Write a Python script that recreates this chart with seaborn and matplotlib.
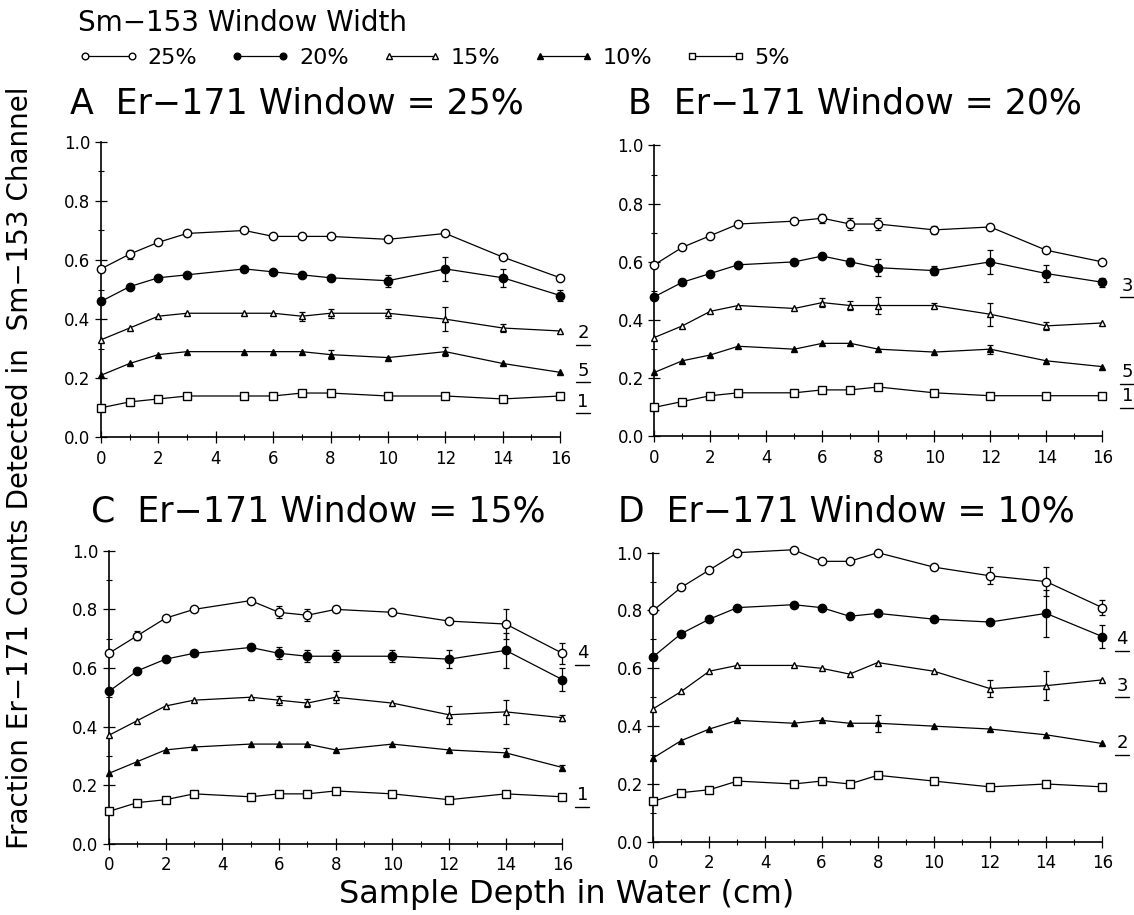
import numpy as np
import pandas as pd
import matplotlib
matplotlib.use("Agg")
import matplotlib.pyplot as plt
from matplotlib.lines import Line2D
from matplotlib.ticker import MultipleLocator
import seaborn as sns

depth = [0, 1, 2, 3, 5, 6, 7, 8, 10, 12, 14, 16]
sm_windows = ["25%", "20%", "15%", "10%", "5%"]
panel_letters = ["A", "B", "C", "D"]
er_windows = ["25%", "20%", "15%", "10%"]

# fraction values, one list per Sm-153 window, per panel
frac_A = [
    [0.57, 0.62, 0.66, 0.69, 0.70, 0.68, 0.68, 0.68, 0.67, 0.69, 0.61, 0.54],
    [0.46, 0.51, 0.54, 0.55, 0.57, 0.56, 0.55, 0.54, 0.53, 0.57, 0.54, 0.48],
    [0.33, 0.37, 0.41, 0.42, 0.42, 0.42, 0.41, 0.42, 0.42, 0.40, 0.37, 0.36],
    [0.21, 0.25, 0.28, 0.29, 0.29, 0.29, 0.29, 0.28, 0.27, 0.29, 0.25, 0.22],
    [0.10, 0.12, 0.13, 0.14, 0.14, 0.14, 0.15, 0.15, 0.14, 0.14, 0.13, 0.14],
]
frac_B = [
    [0.59, 0.65, 0.69, 0.73, 0.74, 0.75, 0.73, 0.73, 0.71, 0.72, 0.64, 0.60],
    [0.48, 0.53, 0.56, 0.59, 0.60, 0.62, 0.60, 0.58, 0.57, 0.60, 0.56, 0.53],
    [0.34, 0.38, 0.43, 0.45, 0.44, 0.46, 0.45, 0.45, 0.45, 0.42, 0.38, 0.39],
    [0.22, 0.26, 0.28, 0.31, 0.30, 0.32, 0.32, 0.30, 0.29, 0.30, 0.26, 0.24],
    [0.10, 0.12, 0.14, 0.15, 0.15, 0.16, 0.16, 0.17, 0.15, 0.14, 0.14, 0.14],
]
frac_C = [
    [0.65, 0.71, 0.77, 0.80, 0.83, 0.79, 0.78, 0.80, 0.79, 0.76, 0.75, 0.65],
    [0.52, 0.59, 0.63, 0.65, 0.67, 0.65, 0.64, 0.64, 0.64, 0.63, 0.66, 0.56],
    [0.37, 0.42, 0.47, 0.49, 0.50, 0.49, 0.48, 0.50, 0.48, 0.44, 0.45, 0.43],
    [0.24, 0.28, 0.32, 0.33, 0.34, 0.34, 0.34, 0.32, 0.34, 0.32, 0.31, 0.26],
    [0.11, 0.14, 0.15, 0.17, 0.16, 0.17, 0.17, 0.18, 0.17, 0.15, 0.17, 0.16],
]
frac_D = [
    [0.80, 0.88, 0.94, 1.00, 1.01, 0.97, 0.97, 1.00, 0.95, 0.92, 0.90, 0.81],
    [0.64, 0.72, 0.77, 0.81, 0.82, 0.81, 0.78, 0.79, 0.77, 0.76, 0.79, 0.71],
    [0.46, 0.52, 0.59, 0.61, 0.61, 0.60, 0.58, 0.62, 0.59, 0.53, 0.54, 0.56],
    [0.29, 0.35, 0.39, 0.42, 0.41, 0.42, 0.41, 0.41, 0.40, 0.39, 0.37, 0.34],
    [0.14, 0.17, 0.18, 0.21, 0.20, 0.21, 0.20, 0.23, 0.21, 0.19, 0.20, 0.19],
]

# error bars (half-width), same layout
err_A = [
    [0, 0.015, 0, 0, 0, 0, 0, 0, 0, 0, 0, 0],
    [0, 0, 0, 0, 0, 0, 0, 0, 0.02, 0.04, 0.03, 0.02],
    [0, 0, 0, 0, 0, 0, 0.015, 0.015, 0.015, 0.04, 0.015, 0],
    [0, 0, 0, 0, 0, 0, 0, 0.015, 0, 0.015, 0, 0],
    [0, 0, 0, 0, 0, 0, 0, 0, 0, 0, 0, 0],
]
err_B = [
    [0, 0, 0.01, 0, 0, 0.015, 0.02, 0.02, 0.015, 0, 0, 0],
    [0, 0, 0, 0, 0, 0, 0.015, 0.03, 0.015, 0.04, 0.03, 0.015],
    [0, 0, 0, 0, 0, 0.015, 0.015, 0.03, 0.01, 0.04, 0.015, 0],
    [0, 0, 0, 0, 0, 0, 0, 0, 0, 0.015, 0, 0],
    [0, 0, 0, 0, 0, 0, 0, 0, 0, 0, 0, 0],
]
err_C = [
    [0, 0.015, 0, 0, 0, 0.02, 0.02, 0.01, 0, 0, 0.05, 0.035],
    [0, 0, 0, 0, 0, 0.02, 0.02, 0.02, 0.02, 0.03, 0.06, 0.04],
    [0, 0, 0, 0, 0, 0.015, 0.015, 0.02, 0, 0.03, 0.04, 0.01],
    [0, 0, 0, 0, 0, 0, 0, 0, 0, 0, 0.015, 0.01],
    [0, 0, 0, 0, 0, 0, 0, 0, 0, 0, 0, 0],
]
err_D = [
    [0, 0, 0, 0, 0, 0, 0, 0, 0, 0.03, 0.05, 0.025],
    [0, 0, 0, 0, 0, 0, 0, 0, 0, 0, 0.08, 0.04],
    [0, 0, 0, 0, 0, 0, 0, 0, 0, 0.03, 0.05, 0],
    [0, 0, 0, 0, 0, 0, 0, 0.03, 0, 0, 0, 0],
    [0, 0, 0, 0, 0, 0, 0, 0, 0, 0, 0, 0],
]

# underlined numbers at the right of each panel (y of the number, label)
side_A = [(0.353, "2"), (0.226, "5"), (0.121, "1")]
side_B = [(0.518, "3"), (0.22, "5"), (0.138, "1")]
side_C = [(0.65, "4"), (0.165, "1")]
side_D = [(0.70, "4"), (0.54, "3"), (0.34, "2")]

fracs = [frac_A, frac_B, frac_C, frac_D]
errs = [err_A, err_B, err_C, err_D]
sides = [side_A, side_B, side_C, side_D]

markers = ["o", "o", "^", "^", "s"]
faces = ["white", "black", "white", "black", "white"]
msizes = [6, 6, 5, 5, 6]

sns.set_style("ticks", rc={"text.color": "black", "axes.labelcolor": "black",
                           "xtick.color": "black", "ytick.color": "black",
                           "axes.edgecolor": "black"})
plt.rcParams["font.family"] = ["DejaVu Sans"]

fig = plt.figure(figsize=(11.34, 9.15), dpi=100)
boxes = [
    [0.089, 0.522, 0.405, 0.323],
    [0.577, 0.523, 0.395, 0.318],
    [0.096, 0.078, 0.400, 0.320],
    [0.576, 0.080, 0.396, 0.316],
]
title_pos = [(0.062, 0.887), (0.554, 0.887), (0.080, 0.441), (0.545, 0.441)]
side_x = [16.6, 16.7, 16.5, 16.5]

for p in range(4):
    ax = fig.add_axes(boxes[p])
    for s in range(5):
        df = pd.DataFrame({"depth": depth, "frac": fracs[p][s]})
        sns.lineplot(data=df, x="depth", y="frac", ax=ax, color="black",
                     lw=0.9, marker=markers[s], markersize=msizes[s],
                     markerfacecolor=faces[s], markeredgecolor="black",
                     markeredgewidth=1.0, clip_on=False, zorder=3)
        e = np.array(errs[p][s])
        has = e > 0
        ax.errorbar(np.array(depth)[has], np.array(fracs[p][s])[has],
                    yerr=e[has], fmt="none", ecolor="black", elinewidth=0.9,
                    capsize=2.2, capthick=0.9, clip_on=False, zorder=2)
    ax.set_xlim(0, 16)
    ax.set_ylim(0, 1.0)
    ax.xaxis.set_major_locator(MultipleLocator(2))
    ax.xaxis.set_minor_locator(MultipleLocator(1))
    ax.yaxis.set_major_locator(MultipleLocator(0.2))
    ax.yaxis.set_minor_locator(MultipleLocator(0.1))
    ax.set_yticklabels([f"{v:.1f}" for v in ax.get_yticks()])
    ax.tick_params(which="major", direction="inout", length=8, width=0.9,
                   labelsize=12)
    ax.tick_params(axis="x", which="major", pad=5)
    ax.tick_params(which="minor", direction="inout", length=4, width=0.8)
    ax.get_yticklabels()[-1].set_fontsize(10)
    sns.despine(ax=ax)
    for sp in ["left", "bottom"]:
        ax.spines[sp].set_linewidth(1.2)
    ax.set_xlabel("")
    ax.set_ylabel("")
    fig.text(title_pos[p][0], title_pos[p][1],
             f"{panel_letters[p]}  Er\u2212171 Window = {er_windows[p]}",
             fontsize=25, ha="left", va="center")
    sx = side_x[p]
    for yv, lab in sides[p]:
        ax.text(sx, yv, lab, fontsize=13, ha="left", va="center",
                clip_on=False)
        ax.plot([sx - 0.05, sx + 0.45], [yv - 0.04, yv - 0.04], color="black",
                lw=1.0, clip_on=False)

handles = [Line2D([0], [0], color="black", lw=0.9, marker=markers[s],
                  markersize=msizes[s] * 0.8, markerfacecolor=faces[s],
                  markeredgecolor="black") for s in range(5)]
fig.legend(handles, sm_windows, loc="upper left", bbox_to_anchor=(0.069, 0.99),
           borderaxespad=0, borderpad=0,
           ncol=5, numpoints=2, frameon=False, fontsize=16,
           title="Sm\u2212153 Window Width", title_fontsize=20,
           alignment="left", handlelength=2.7, handletextpad=0.4,
           columnspacing=1.5)

fig.text(0.5, 0.013, "Sample Depth in Water (cm)", ha="center", va="baseline",
         fontsize=23)
fig.text(0.018, 0.489, "Fraction Er\u2212171 Counts Detected in  Sm\u2212153 Channel",
         rotation=90, ha="center", va="center", fontsize=20)

fig.savefig("out.png", dpi=100, facecolor="white")
